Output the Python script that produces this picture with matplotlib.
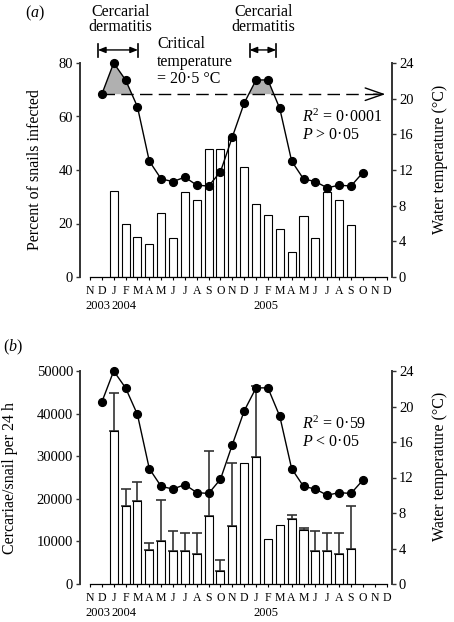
import numpy as np
import matplotlib
matplotlib.use("Agg")
import matplotlib.pyplot as plt
import matplotlib.transforms as mtransforms

plt.rcParams['font.family'] = ['Liberation Serif', 'DejaVu Serif']
plt.rcParams['mathtext.fontset'] = 'custom'
plt.rcParams['mathtext.rm'] = 'Liberation Serif'
plt.rcParams['mathtext.it'] = 'Liberation Serif:italic'

# month axis: Nov 2003 .. Dec 2005
months = ['N', 'D', 'J', 'F', 'M', 'A', 'M', 'J', 'J', 'A', 'S', 'O',
          'N', 'D', 'J', 'F', 'M', 'A', 'M', 'J', 'J', 'A', 'S', 'O', 'N', 'D']
years = ['2003', '2004', '2005']
year_pos = [-0.42, 1.85, 13.75]

# water temperature, Dec 2003 .. Oct 2005
temp_idx = list(range(1, 24))
temp = [20.5, 24.0, 22.1, 19.1, 13.0, 11.0, 10.7, 11.2, 10.3, 10.2, 11.8,
        15.7, 19.5, 22.1, 22.1, 18.9, 13.0, 11.0, 10.7, 10.0, 10.3, 10.2, 11.7]
crit_temp = 20.5

# bars, Jan 2004 .. Sep 2005
bar_idx = list(range(2, 23))
infected = [32.2, 20.0, 15.1, 12.2, 23.8, 14.4, 31.6, 28.9, 47.8, 48.0, 52.5,
            41.0, 27.4, 23.0, 18.1, 9.5, 22.8, 14.4, 31.7, 28.6, 19.4]
cercariae = [35900, 18400, 19600, 7900, 10000, 7800, 7800, 7000, 15900, 3100, 13600,
             28300, 29700, 10600, 13900, 15200, 12600, 7700, 7700, 7000, 8100]
cercariae_err = [9000, 3800, 4300, 1700, 9700, 4700, 4100, 5000, 15300, 2500, 14700,
                 0, 16800, 0, 0, 1000, 600, 4800, 4200, 5000, 10300]

W, H = 454, 622
fig = plt.figure(figsize=(W / 100, H / 100), dpi=100)


def px_axes(left, right, top, bottom):
    return fig.add_axes([left / W, 1 - bottom / H, (right - left) / W, (bottom - top) / H])


def setup_panel(ax, values, ylim, yticks, ylabel, label_x, stats):
    ax.bar(bar_idx, values, width=0.68, color='white', edgecolor='black', lw=0.8, zorder=2)
    ax.set_xlim(-0.84, 25.46)
    ax.set_ylim(*ylim)
    ax.set_yticks(yticks)
    ax.set_xticks(range(len(months)))
    ax.set_xticklabels(months, fontsize=8.5)
    ax.tick_params(axis='x', length=2.5, pad=3, width=0.8)
    ax.tick_params(axis='y', length=3, width=1, labelsize=10.5, pad=2, color='#333333')
    for s in ['top', 'right']:
        ax.spines[s].set_visible(False)
    ax.spines['left'].set_linewidth(1.4)
    ax.spines['left'].set_color('#333333')
    ax.spines['bottom'].set_bounds(0, 25)
    ax.spines['bottom'].set_linewidth(0.9)
    ax.set_ylabel(ylabel, fontsize=11.5)
    ax.yaxis.set_label_coords(label_x, 0.5)

    trans = mtransforms.blended_transform_factory(ax.transData, ax.transAxes)
    for yr, xp in zip(years, year_pos):
        ax.text(xp, -0.137, yr, transform=trans, fontsize=9, ha='left', va='center')

    ax2 = ax.twinx()
    ax2.set_xlim(ax.get_xlim())
    ax2.set_ylim(0, 24)
    ax2.set_yticks([0, 4, 8, 12, 16, 20, 24])
    ax2.tick_params(axis='y', length=3, width=1, labelsize=10.5, pad=2, color='#333333')
    for s in ['top', 'left', 'bottom']:
        ax2.spines[s].set_visible(False)
    ax2.spines['right'].set_linewidth(1.4)
    ax2.spines['right'].set_color('#333333')
    ax2.set_ylabel('Water temperature (°C)', fontsize=11.5)
    ax2.yaxis.set_label_coords(1.128, 0.55)
    ax2.plot(temp_idx, temp, '-o', color='black', lw=1, ms=5.6, clip_on=False, zorder=5)

    ax2.text(17.85, stats[0][1], stats[0][0], fontsize=11.5, va='center', ha='left')
    ax2.text(17.85, stats[1][1], stats[1][0], fontsize=11.5, va='center', ha='left')
    return ax2


# panel (a)
ax_a = px_axes(80, 392, 63, 277)
ax_a2 = setup_panel(ax_a, infected, (0, 80), [0, 20, 40, 60, 80],
                    'Percent of snails infected', -0.119,
                    [(r'$R^2$ = 0·0001', 17.9), (r'$P$ > 0·05', 15.9)])

t = np.array(temp)
ax_a2.fill_between(temp_idx, t, crit_temp, where=t >= crit_temp, interpolate=True,
                   color='#b0b0b0', lw=0, zorder=3)
ax_a2.plot([1, 24.2], [crit_temp, crit_temp], color='black', lw=1, dashes=(9, 4.5), zorder=3)
ax_a2.annotate('', xy=(24.9, crit_temp), xytext=(23.9, crit_temp),
               arrowprops=dict(arrowstyle='->,head_length=1.3,head_width=0.45',
                               lw=1, color='black', shrinkA=0, shrinkB=0),
               annotation_clip=False)

trans_a = mtransforms.blended_transform_factory(ax_a.transData, ax_a.transAxes)
for x0, x1, xc in [(0.67, 4.05, 2.55), (13.45, 15.7, 14.65)]:
    ax_a.annotate('', xy=(x1, 1.061), xytext=(x0, 1.061), xycoords=trans_a,
                  textcoords=trans_a,
                  arrowprops=dict(arrowstyle='<|-|>,head_length=0.45,head_width=0.18',
                                  color='black', lw=1, shrinkA=0, shrinkB=0),
                  annotation_clip=False)
    for xe in (x0, x1):
        ax_a.plot([xe, xe], [1.03, 1.09], transform=trans_a, color='black', lw=1.2,
                  clip_on=False)
    ax_a.text(xc, 1.203, 'Cercarial\ndermatitis', transform=trans_a, fontsize=11.5,
              ha='center', va='center', linespacing=0.95)
ax_a.text(5.65, 1.007, 'Critical\ntemperature\n= 20·5 °C', transform=trans_a,
          fontsize=11.5, ha='left', va='center', linespacing=1.1)

fig.text(25 / W, 1 - 13 / H, r'$(a)$', fontsize=11.5, ha='left', va='center')

# panel (b)
ax_b = px_axes(80, 392, 371, 584)
err = np.array(cercariae_err)
mask = err > 0
ax_b.errorbar(np.array(bar_idx)[mask], np.array(cercariae)[mask],
              yerr=[np.zeros(mask.sum()), err[mask]], fmt='none',
              ecolor='#333333', elinewidth=1.2, capsize=3.5, capthick=1.2, zorder=1)
ax_b2 = setup_panel(ax_b, cercariae, (0, 50000), [0, 10000, 20000, 30000, 40000, 50000],
                    'Cercariae/snail per 24 h', -0.2,
                    [(r'$R^2$ = 0·59', 18.0), (r'$P$ < 0·05', 16.0)])

fig.text(3 / W, 1 - 347 / H, r'$(b)$', fontsize=11.5, ha='left', va='center')

fig.savefig('out.png', dpi=100)
